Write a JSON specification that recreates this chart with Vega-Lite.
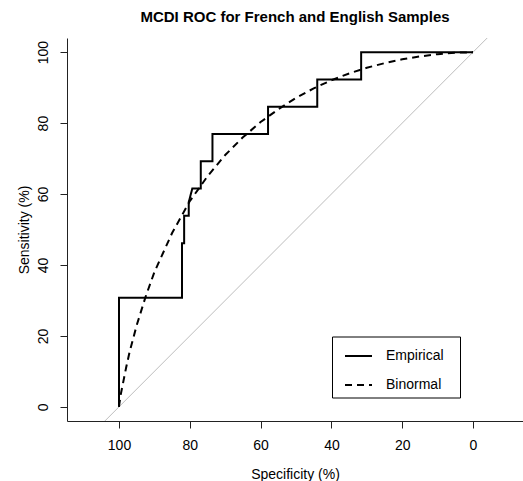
{
  "$schema": "https://vega.github.io/schema/vega-lite/v6.json",
  "autosize": "none",
  "width": 456,
  "height": 383,
  "padding": {"left": 67, "top": 38, "right": 0, "bottom": 60},
  "background": "white",
  "title": {"text": "MCDI ROC for French and English Samples", "font": "Liberation Sans", "fontSize": 15, "fontWeight": "bold", "color": "black", "offset": 11, "anchor": "middle"},
  "config": {
    "view": {"stroke": null},
    "axis": {"grid": false, "labelFont": "Liberation Sans", "titleFont": "Liberation Sans", "labelFontSize": 14, "titleFontSize": 14, "titleFontWeight": "normal", "labelColor": "black", "titleColor": "black", "domainColor": "#222", "tickColor": "#222", "tickSize": 7, "domainWidth": 1, "tickWidth": 1}
  },
  "datasets": {
    "curves": [
      {"curve": "Empirical", "order": 1, "spec": 100, "sens": 0},
      {"curve": "Empirical", "order": 2, "spec": 100, "sens": 30.77},
      {"curve": "Empirical", "order": 3, "spec": 82.2, "sens": 30.77},
      {"curve": "Empirical", "order": 4, "spec": 82.2, "sens": 46.15},
      {"curve": "Empirical", "order": 5, "spec": 81.6, "sens": 46.15},
      {"curve": "Empirical", "order": 6, "spec": 81.6, "sens": 53.85},
      {"curve": "Empirical", "order": 7, "spec": 80.3, "sens": 53.85},
      {"curve": "Empirical", "order": 8, "spec": 80.3, "sens": 57.7},
      {"curve": "Empirical", "order": 9, "spec": 79.3, "sens": 61.54},
      {"curve": "Empirical", "order": 10, "spec": 76.9, "sens": 61.54},
      {"curve": "Empirical", "order": 11, "spec": 76.9, "sens": 69.23},
      {"curve": "Empirical", "order": 12, "spec": 73.6, "sens": 69.23},
      {"curve": "Empirical", "order": 13, "spec": 73.6, "sens": 76.92},
      {"curve": "Empirical", "order": 14, "spec": 57.9, "sens": 76.92},
      {"curve": "Empirical", "order": 15, "spec": 57.9, "sens": 84.62},
      {"curve": "Empirical", "order": 16, "spec": 44.0, "sens": 84.62},
      {"curve": "Empirical", "order": 17, "spec": 44.0, "sens": 92.31},
      {"curve": "Empirical", "order": 18, "spec": 31.6, "sens": 92.31},
      {"curve": "Empirical", "order": 19, "spec": 31.6, "sens": 100},
      {"curve": "Empirical", "order": 20, "spec": 0, "sens": 100},
      {"curve": "Binormal", "order": 1, "spec": 100, "sens": 0},
      {"curve": "Binormal", "order": 2, "spec": 99.9, "sens": 0.8},
      {"curve": "Binormal", "order": 3, "spec": 99.5, "sens": 3.5},
      {"curve": "Binormal", "order": 4, "spec": 99, "sens": 6},
      {"curve": "Binormal", "order": 5, "spec": 98, "sens": 11},
      {"curve": "Binormal", "order": 6, "spec": 97, "sens": 15.5},
      {"curve": "Binormal", "order": 7, "spec": 95, "sens": 23},
      {"curve": "Binormal", "order": 8, "spec": 92.5, "sens": 31},
      {"curve": "Binormal", "order": 9, "spec": 90, "sens": 38},
      {"curve": "Binormal", "order": 10, "spec": 85, "sens": 49},
      {"curve": "Binormal", "order": 11, "spec": 80, "sens": 58},
      {"curve": "Binormal", "order": 12, "spec": 75, "sens": 65},
      {"curve": "Binormal", "order": 13, "spec": 70, "sens": 71},
      {"curve": "Binormal", "order": 14, "spec": 65, "sens": 76},
      {"curve": "Binormal", "order": 15, "spec": 60, "sens": 80.3},
      {"curve": "Binormal", "order": 16, "spec": 55, "sens": 83.9},
      {"curve": "Binormal", "order": 17, "spec": 50, "sens": 87.1},
      {"curve": "Binormal", "order": 18, "spec": 45, "sens": 89.8},
      {"curve": "Binormal", "order": 19, "spec": 40, "sens": 92.1},
      {"curve": "Binormal", "order": 20, "spec": 35, "sens": 94},
      {"curve": "Binormal", "order": 21, "spec": 30, "sens": 95.6},
      {"curve": "Binormal", "order": 22, "spec": 25, "sens": 96.9},
      {"curve": "Binormal", "order": 23, "spec": 20, "sens": 98},
      {"curve": "Binormal", "order": 24, "spec": 15, "sens": 98.8},
      {"curve": "Binormal", "order": 25, "spec": 10, "sens": 99.45},
      {"curve": "Binormal", "order": 26, "spec": 5, "sens": 99.84},
      {"curve": "Binormal", "order": 27, "spec": 0, "sens": 100}
    ],
    "diag": [
      {"spec": 104, "sens": -4},
      {"spec": -4, "sens": 104}
    ]
  },
  "layer": [
    {
      "data": {"name": "diag"},
      "mark": {"type": "line", "color": "#bdbdbd", "strokeWidth": 1},
      "encoding": {
        "x": {"field": "spec", "type": "quantitative", "scale": {"domain": [-14.12, 114.69], "reverse": true, "nice": false, "zero": false},
              "axis": {"values": [0, 20, 40, 60, 80, 100], "title": "Specificity (%)", "labelPadding": 10, "titlePadding": 15}},
        "y": {"field": "sens", "type": "quantitative", "scale": {"domain": [-4, 104], "nice": false, "zero": false},
              "axis": {"values": [0, 20, 40, 60, 80, 100], "title": "Sensitivity (%)", "labelAngle": -90, "labelAlign": "center", "labelBaseline": "alphabetic", "labelPadding": 13, "titlePadding": 5}}
      }
    },
    {
      "data": {"name": "curves"},
      "mark": {"type": "line", "color": "black", "strokeWidth": 2},
      "encoding": {
        "x": {"field": "spec", "type": "quantitative"},
        "y": {"field": "sens", "type": "quantitative"},
        "order": {"field": "order", "type": "quantitative"},
        "strokeDash": {"field": "curve", "type": "nominal",
          "scale": {"domain": ["Empirical", "Binormal"], "range": [[1, 0], [7, 5]]},
          "legend": {"title": " ", "titleFontSize": 10, "titlePadding": 11, "titleOrient": "right", "orient": "none", "legendX": 265, "legendY": 298.5, "direction": "vertical",
            "strokeColor": "black", "fillColor": "white", "padding": 5, "symbolType": "stroke", "symbolSize": 729,
            "symbolStrokeWidth": 2, "symbolStrokeColor": "black", "symbolOffset": 7, "labelOffset": 13,
            "labelFont": "Liberation Sans", "labelFontSize": 14, "labelColor": "black", "rowPadding": 7}}
      }
    },
    {
      "mark": {"type": "rule", "color": "#222", "strokeWidth": 1},
      "encoding": {"y": {"datum": 104}}
    }
  ]
}
